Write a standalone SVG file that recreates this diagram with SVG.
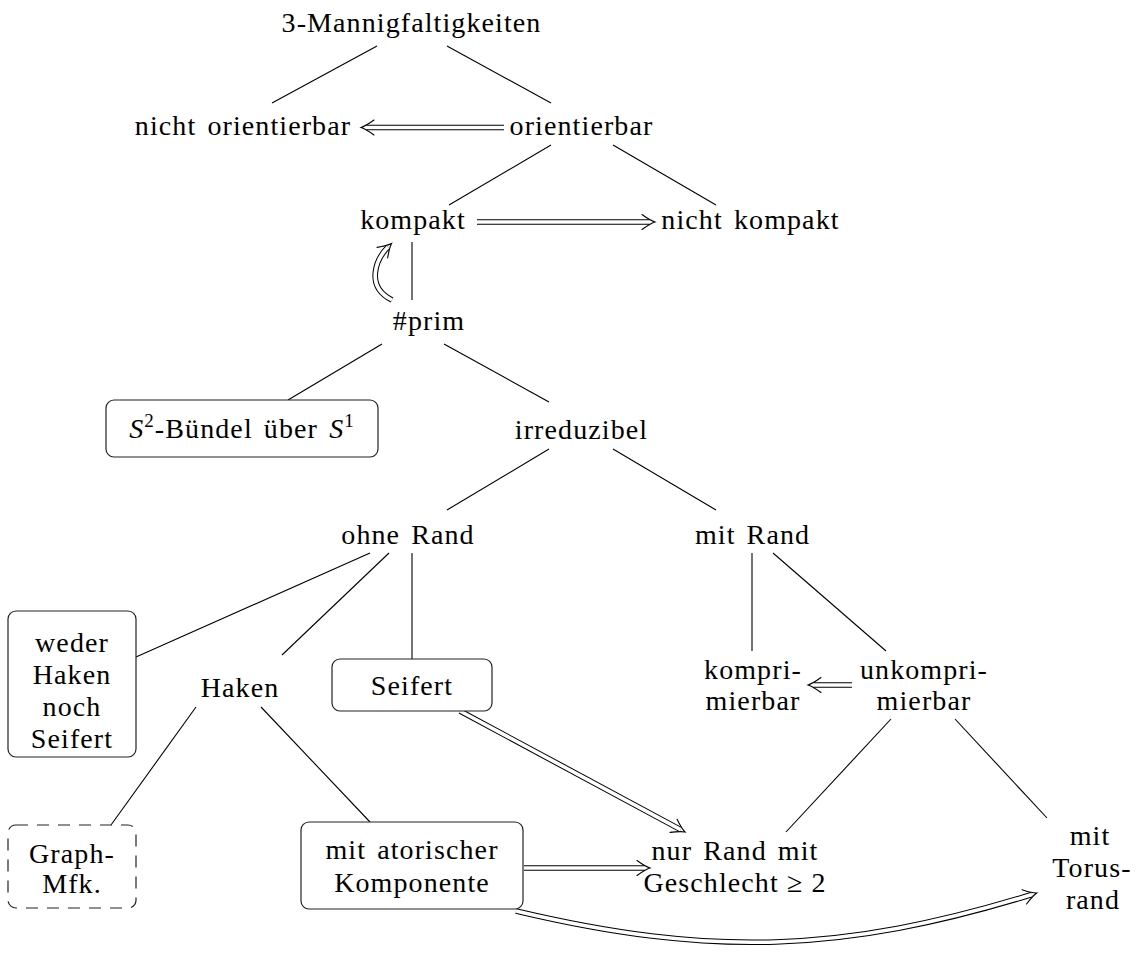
<svg xmlns="http://www.w3.org/2000/svg" width="1143" height="956" viewBox="0 0 1143 956">
<style>
text{font-family:"Liberation Serif","Times New Roman",serif;font-size:28px;fill:#000;text-anchor:middle;letter-spacing:1.1px;word-spacing:3px}
.ln{stroke:#000;stroke-width:1.1;fill:none}
.box{fill:#fff;stroke:#222;stroke-width:1.2}
.dash{stroke-dasharray:12 9}
.dblo{fill:none;stroke:#000;stroke-width:5.6;marker-end:url(#imp)}
.dbli{fill:none;stroke:#fff;stroke-width:3.6}
.sup{font-size:19px}
</style>
<defs>
<marker id="imp" viewBox="-14 -10 16 20" refX="-5" refY="0" markerWidth="16" markerHeight="20" markerUnits="userSpaceOnUse" orient="auto" overflow="visible">
<path d="M-13,-7.5 Q-5,-1.7 0,0 Q-5,1.7 -13,7.5" fill="none" stroke="#000" stroke-width="1.1" stroke-linecap="round"/>
</marker>
</defs>
<rect width="1143" height="956" fill="#fff"/>
<g id="connectors">
<line class="ln" x1="377" y1="46" x2="272" y2="103"/>
<line class="ln" x1="447" y1="46" x2="551" y2="103"/>
<line class="ln" x1="551" y1="145" x2="449" y2="205"/>
<line class="ln" x1="613" y1="145" x2="716" y2="205"/>
<line class="ln" x1="412" y1="242" x2="412" y2="300"/>
<line class="ln" x1="382" y1="344" x2="288" y2="400"/>
<line class="ln" x1="444" y1="344" x2="549" y2="402"/>
<line class="ln" x1="549" y1="449" x2="447" y2="510"/>
<line class="ln" x1="613" y1="449" x2="716" y2="510"/>
<line class="ln" x1="370" y1="553" x2="136" y2="657"/>
<line class="ln" x1="389" y1="553" x2="282" y2="655"/>
<line class="ln" x1="412" y1="553" x2="412" y2="659"/>
<line class="ln" x1="752" y1="553" x2="752" y2="651"/>
<line class="ln" x1="773" y1="553" x2="886" y2="651"/>
<line class="ln" x1="196" y1="707" x2="111" y2="825"/>
<line class="ln" x1="261" y1="707" x2="370" y2="822"/>
<line class="ln" x1="891" y1="719" x2="786" y2="832"/>
<line class="ln" x1="955" y1="719" x2="1047" y2="818"/>
<path class="dblo" d="M504,127.5 L366,127.5"/><path class="dbli" d="M504,127.5 L366,127.5"/>
<path class="dblo" d="M477,222 L650,222"/><path class="dbli" d="M477,222 L650,222"/>
<path class="dblo" d="M392,300 C364,286 377,258 388,247"/><path class="dbli" d="M392,300 C364,286 377,258 388,247"/>
<path class="dblo" d="M460,711 L680.6,829.6"/><path class="dbli" d="M460,711 L680.6,829.6"/>
<path class="dblo" d="M524,868 L645,868"/><path class="dbli" d="M524,868 L645,868"/>
<path class="dblo" d="M852,685 L813,685"/><path class="dbli" d="M852,685 L813,685"/>
<path class="dblo" d="M516,911 C710,957 842,953 1032,894.5"/><path class="dbli" d="M516,911 C710,957 842,953 1032,894.5"/>
</g>
<g id="n-mfk"><text x="411.5" y="32">3-Mannigfaltigkeiten</text></g>
<g id="n-nichtorient"><text x="243" y="135">nicht orientierbar</text></g>
<g id="n-orient"><text x="581.5" y="135">orientierbar</text></g>
<g id="n-kompakt"><text x="413" y="229">kompakt</text></g>
<g id="n-nichtkompakt"><text x="750.5" y="229">nicht kompakt</text></g>
<g id="n-prim"><text x="429" y="330">#prim</text></g>
<g id="n-s2"><rect class="box" x="106" y="400" width="272" height="57" rx="8"/>
<text x="242" y="438"><tspan font-style="italic">S</tspan><tspan class="sup" dy="-11">2</tspan><tspan dy="11">-Bündel über </tspan><tspan font-style="italic">S</tspan><tspan class="sup" dy="-11">1</tspan></text></g>
<g id="n-irred"><text x="581.5" y="439">irreduzibel</text></g>
<g id="n-ohne"><text x="408" y="544">ohne Rand</text></g>
<g id="n-mit"><text x="752.5" y="544">mit Rand</text></g>
<g id="n-weder"><rect class="box" x="8" y="611" width="128" height="146" rx="8"/>
<text x="72" y="652">weder</text><text x="72" y="684">Haken</text><text x="72" y="716">noch</text><text x="72" y="748">Seifert</text></g>
<g id="n-haken"><text x="240" y="697">Haken</text></g>
<g id="n-seifert"><rect class="box" x="332" y="659" width="160" height="52" rx="8"/><text x="412" y="695">Seifert</text></g>
<g id="n-kompri"><text x="753" y="679">kompri-</text><text x="753" y="710">mierbar</text></g>
<g id="n-unkompri"><text x="924" y="679">unkompri-</text><text x="924" y="710">mierbar</text></g>
<g id="n-graph"><rect class="box dash" x="8" y="825" width="128" height="83" rx="8"/>
<text x="72" y="863">Graph-</text><text x="72" y="893">Mfk.</text></g>
<g id="n-ator"><rect class="box" x="301" y="822" width="222" height="87" rx="8"/>
<text x="412" y="859">mit atorischer</text><text x="412" y="892">Komponente</text></g>
<g id="n-nur"><text x="735" y="860">nur Rand mit</text><text x="735" y="892" style="word-spacing:0">Geschlecht ≥ 2</text></g>
<g id="n-torus"><text x="1090" y="845">mit</text><text x="1092" y="877">Torus-</text><text x="1093" y="909">rand</text></g>
</svg>
